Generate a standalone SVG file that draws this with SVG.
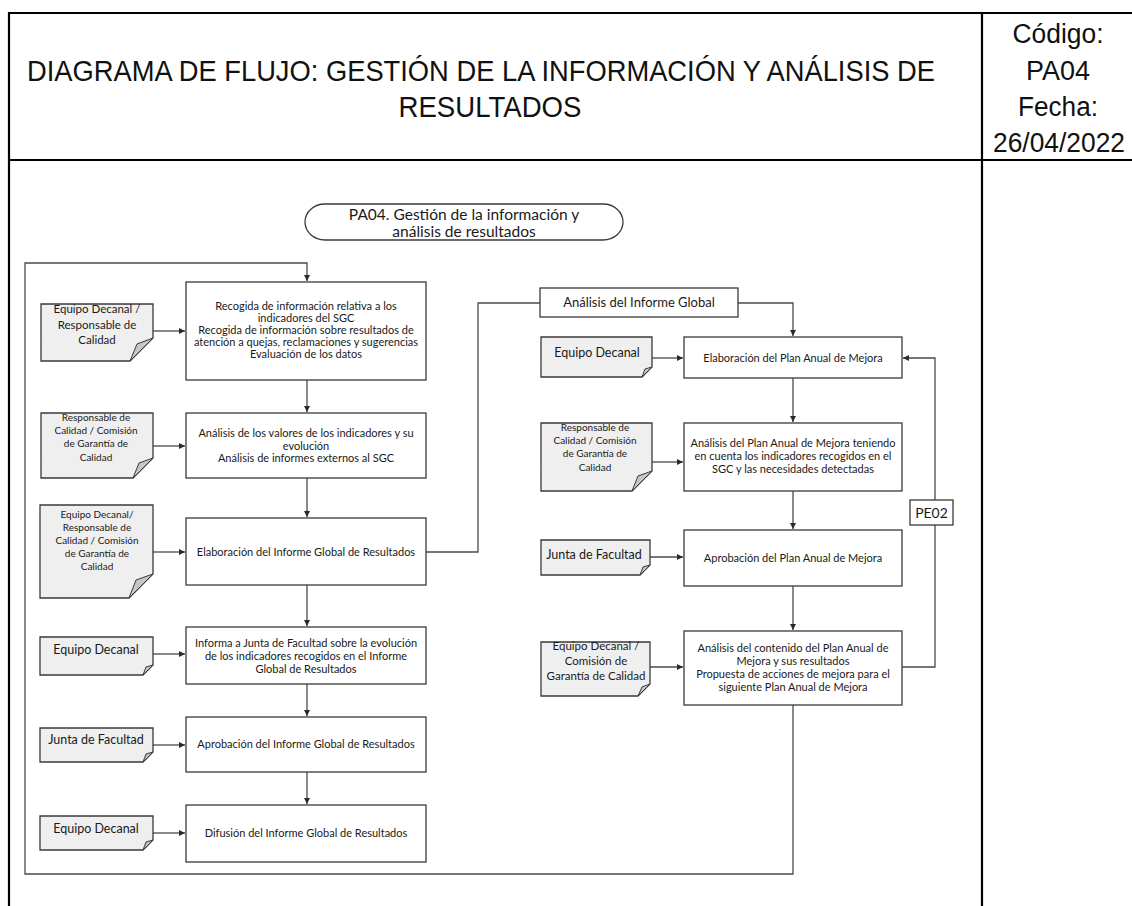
<svg xmlns="http://www.w3.org/2000/svg" width="1132" height="906" viewBox="0 0 1132 906">
<defs>
<marker id="arr" markerUnits="userSpaceOnUse" markerWidth="7" markerHeight="7" refX="6" refY="3" orient="auto">
<path d="M0,0 L6,3 L0,6 Z" fill="#2a2a2a"/>
</marker>
<style>
.frame{stroke:#000;stroke-width:2.2;fill:none}
.hd{font-family:"Liberation Sans",Arial,sans-serif;fill:#111;text-anchor:middle}
.box{fill:#fff;stroke:#3a3a3a;stroke-width:1.3}
.doc{fill:#efefef;stroke:#3a3a3a;stroke-width:1.3}
.fold{fill:#c6c6c6;stroke:#3a3a3a;stroke-width:1}
.t{font-family:Lato,"Open Sans",sans-serif;font-size:11px;fill:#1a1a1a;text-anchor:middle}
.ds{font-family:Lato,"Open Sans",sans-serif;font-size:10px;fill:#1a1a1a;text-anchor:middle}
.dm{font-family:Lato,"Open Sans",sans-serif;font-size:11.5px;fill:#1a1a1a;text-anchor:middle}
.dl{font-family:Lato,"Open Sans",sans-serif;font-size:12.5px;fill:#1a1a1a;text-anchor:middle}
.conn path{fill:none;stroke:#4a4a4a;stroke-width:1.3}
</style>
</defs>

<g id="table">
<path class="frame" d="M9,13 H1132 M9,160 H1132 M9,12 V906 M982,12 V906"/>
<text class="hd" x="481" y="81" style="font-size:29px" textLength="908" lengthAdjust="spacingAndGlyphs">DIAGRAMA DE FLUJO: GESTIÓN DE LA INFORMACIÓN Y ANÁLISIS DE</text>
<text class="hd" x="490" y="117" style="font-size:29px" textLength="183" lengthAdjust="spacingAndGlyphs">RESULTADOS</text>
<text class="hd" x="1058" y="43" style="font-size:27px" textLength="91" lengthAdjust="spacingAndGlyphs">Código:</text>
<text class="hd" x="1058" y="80" style="font-size:27px" textLength="64" lengthAdjust="spacingAndGlyphs">PA04</text>
<text class="hd" x="1058" y="116" style="font-size:27px" textLength="80" lengthAdjust="spacingAndGlyphs">Fecha:</text>
<text class="hd" x="1059" y="152" style="font-size:27px" textLength="132" lengthAdjust="spacingAndGlyphs">26/04/2022</text>
</g>

<g class="conn" id="connectors">
<path d="M793,705 V874 H25 V263 H307 V281" marker-end="url(#arr)"/>
<path d="M307,380 V412" marker-end="url(#arr)"/>
<path d="M307,478 V517" marker-end="url(#arr)"/>
<path d="M307,585 V626" marker-end="url(#arr)"/>
<path d="M307,684 V716" marker-end="url(#arr)"/>
<path d="M307,772 V804" marker-end="url(#arr)"/>
<path d="M153,331 H185" marker-end="url(#arr)"/>
<path d="M153,446 H185" marker-end="url(#arr)"/>
<path d="M153,552 H185" marker-end="url(#arr)"/>
<path d="M153,654 H185" marker-end="url(#arr)"/>
<path d="M153,745 H185" marker-end="url(#arr)"/>
<path d="M153,833 H185" marker-end="url(#arr)"/>
<path d="M426,552 H478 V303 H540"/>
<path d="M738,303 H793 V336" marker-end="url(#arr)"/>
<path d="M793,378 V422" marker-end="url(#arr)"/>
<path d="M793,491 V529" marker-end="url(#arr)"/>
<path d="M793,586 V630" marker-end="url(#arr)"/>
<path d="M652,358 H683" marker-end="url(#arr)"/>
<path d="M652,462 H683" marker-end="url(#arr)"/>
<path d="M650,557 H683" marker-end="url(#arr)"/>
<path d="M650,667 H683" marker-end="url(#arr)"/>
<path d="M902,667 H935 V525"/>
<path d="M935,500 V358 H903" marker-end="url(#arr)"/>
</g>

<g id="start">
<rect class="box" x="305" y="204" width="318" height="36" rx="20" ry="18"/>
<text class="t" x="464" y="220" style="font-size:15.5px">PA04. Gestión de la información y</text>
<text class="t" x="464" y="237" style="font-size:15.5px">análisis de resultados</text>
</g>

<g id="b1">
<rect class="box" x="186" y="282" width="240" height="98"/>
<text class="t" x="306" y="310">Recogida de información relativa a los</text>
<text class="t" x="306" y="322">indicadores del SGC</text>
<text class="t" x="306" y="334">Recogida de información sobre resultados de</text>
<text class="t" x="306" y="346">atención a quejas, reclamaciones y sugerencias</text>
<text class="t" x="306" y="358">Evaluación de los datos</text>
</g>
<g id="b2">
<rect class="box" x="186" y="413" width="240" height="65"/>
<text class="t" x="306" y="437">Análisis de los valores de los indicadores y su</text>
<text class="t" x="306" y="449.5">evolución</text>
<text class="t" x="306" y="462">Análisis de informes externos al SGC</text>
</g>
<g id="b3">
<rect class="box" x="186" y="518" width="240" height="67"/>
<text class="t" x="306" y="555.5">Elaboración del Informe Global de Resultados</text>
</g>
<g id="b4">
<rect class="box" x="186" y="627" width="240" height="57"/>
<text class="t" x="306" y="646.5">Informa a Junta de Facultad sobre la evolución</text>
<text class="t" x="306" y="659.5">de los indicadores recogidos en el Informe</text>
<text class="t" x="306" y="672.5">Global de Resultados</text>
</g>
<g id="b5">
<rect class="box" x="186" y="717" width="240" height="55"/>
<text class="t" x="306" y="748">Aprobación del Informe Global de Resultados</text>
</g>
<g id="b6">
<rect class="box" x="186" y="805" width="240" height="57"/>
<text class="t" x="306" y="837">Difusión del Informe Global de Resultados</text>
</g>

<g id="d1">
<path class="doc" d="M41,304 H153 V338 L130,361 H41 Z"/>
<path class="fold" d="M153,338 L130,361 L137,344 Z"/>
<text class="dm" x="97" y="313">Equipo Decanal /</text>
<text class="dm" x="97" y="329">Responsable de</text>
<text class="dm" x="97" y="344">Calidad</text>
</g>
<g id="d2">
<path class="doc" d="M41,413 H153 V458 L133,478 H41 Z"/>
<path class="fold" d="M153,458 L133,478 L139,463 Z"/>
<text class="ds" x="96" y="420.5">Responsable de</text>
<text class="ds" x="96" y="433.5">Calidad / Comisión</text>
<text class="ds" x="96" y="447">de Garantía de</text>
<text class="ds" x="96" y="460.5">Calidad</text>
</g>
<g id="d3">
<path class="doc" d="M40,505 H153 V574 L129,598 H40 Z"/>
<path class="fold" d="M153,574 L129,598 L136,580 Z"/>
<text class="ds" x="97" y="517.5">Equipo Decanal/</text>
<text class="ds" x="97" y="530.5">Responsable de</text>
<text class="ds" x="97" y="543.5">Calidad / Comisión</text>
<text class="ds" x="97" y="556.5">de Garantía de</text>
<text class="ds" x="97" y="569.5">Calidad</text>
</g>
<g id="d4">
<path class="doc" d="M40,637 H153 V665 L143,675 H40 Z"/>
<path class="fold" d="M153,665 L143,675 L146,667 Z"/>
<text class="dl" x="96" y="654">Equipo Decanal</text>
</g>
<g id="d5">
<path class="doc" d="M40,728 H153 V752 L143,762 H40 Z"/>
<path class="fold" d="M153,752 L143,762 L146,754 Z"/>
<text class="dl" x="96" y="744">Junta de Facultad</text>
</g>
<g id="d6">
<path class="doc" d="M40,816 H153 V840 L143,850 H40 Z"/>
<path class="fold" d="M153,840 L143,850 L146,842 Z"/>
<text class="dl" x="96" y="833">Equipo Decanal</text>
</g>

<g id="aig">
<rect class="box" x="540" y="288" width="198" height="29"/>
<text class="dl" x="639" y="307" style="font-size:13px">Análisis del Informe Global</text>
</g>

<g id="r1">
<rect class="box" x="684" y="337" width="218" height="41"/>
<text class="t" x="793" y="361.5">Elaboración del Plan Anual de Mejora</text>
</g>
<g id="r2">
<rect class="box" x="684" y="423" width="218" height="68"/>
<text class="t" x="793" y="447">Análisis del Plan Anual de Mejora teniendo</text>
<text class="t" x="793" y="460">en cuenta los indicadores recogidos en el</text>
<text class="t" x="793" y="473">SGC y las necesidades detectadas</text>
</g>
<g id="r3">
<rect class="box" x="684" y="530" width="218" height="56"/>
<text class="t" x="793" y="561.5">Aprobación del Plan Anual de Mejora</text>
</g>
<g id="r4">
<rect class="box" x="684" y="631" width="218" height="74"/>
<text class="t" x="793" y="651.5">Análisis del contenido del Plan Anual de</text>
<text class="t" x="793" y="664.5">Mejora y sus resultados</text>
<text class="t" x="793" y="677.5">Propuesta de acciones de mejora para el</text>
<text class="t" x="793" y="690.5">siguiente Plan Anual de Mejora</text>
</g>

<g id="dr1">
<path class="doc" d="M541,337 H652 V367 L642,377 H541 Z"/>
<path class="fold" d="M652,367 L642,377 L645,369 Z"/>
<text class="dl" x="597" y="357">Equipo Decanal</text>
</g>
<g id="dr2">
<path class="doc" d="M541,423 H652 V471 L632,491 H541 Z"/>
<path class="fold" d="M652,471 L632,491 L638,476 Z"/>
<text class="ds" x="595" y="430.5">Responsable de</text>
<text class="ds" x="595" y="443.5">Calidad / Comisión</text>
<text class="ds" x="595" y="457">de Garantía de</text>
<text class="ds" x="595" y="470.5">Calidad</text>
</g>
<g id="dr3">
<path class="doc" d="M541,540 H650 V565 L640,575 H541 Z"/>
<path class="fold" d="M650,565 L640,575 L643,567 Z"/>
<text class="dl" x="594" y="559">Junta de Facultad</text>
</g>
<g id="dr4">
<path class="doc" d="M541,642 H650 V684 L638,696 H541 Z"/>
<path class="fold" d="M650,684 L638,696 L642,687 Z"/>
<text class="dm" x="596" y="650">Equipo Decanal /</text>
<text class="dm" x="596" y="665">Comisión de</text>
<text class="dm" x="596" y="680">Garantía de Calidad</text>
</g>

<g id="pe02">
<rect class="box" x="910" y="500" width="43" height="25"/>
<text class="dl" x="931.5" y="517.5" style="font-size:14px">PE02</text>
</g>
</svg>
